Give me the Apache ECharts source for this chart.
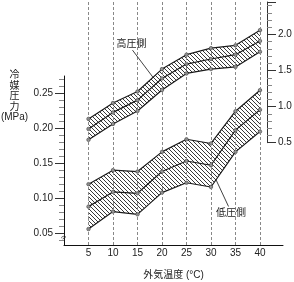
<!DOCTYPE html>
<html><head><meta charset="utf-8">
<script src="https://cdn.jsdelivr.net/npm/echarts@6/dist/echarts.min.js"></script>
<style>html,body{margin:0;padding:0;background:#fff}#c{width:294px;height:282px}</style>
</head><body><div id="c"></div>
<script>
// ---- data ----
const temps = [5, 10, 15, 20, 25, 30, 35, 40];
const highUpper = [0.83, 1.05, 1.21, 1.52, 1.72, 1.81, 1.85, 2.06];
const highMid   = [0.69, 0.92, 1.09, 1.39, 1.59, 1.66, 1.72, 1.91];
const highLower = [0.54, 0.76, 0.94, 1.23, 1.46, 1.52, 1.55, 1.76];
const lowUpper  = [0.120, 0.140, 0.138, 0.166, 0.184, 0.178, 0.224, 0.254];
const lowMid    = [0.088, 0.109, 0.107, 0.138, 0.153, 0.147, 0.197, 0.226];
const lowLower  = [0.056, 0.081, 0.077, 0.108, 0.122, 0.116, 0.166, 0.195];
const leftTicks = [0.05, 0.10, 0.15, 0.20, 0.25];
const leftMinor = [0.04, 0.06, 0.07, 0.08, 0.09, 0.11, 0.12, 0.13, 0.14, 0.16, 0.17, 0.18, 0.19, 0.21, 0.22, 0.23, 0.24, 0.26, 0.27];
const rightTicks = [0.5, 1.0, 1.5, 2.0];
const rightMinor = [0.6, 0.7, 0.8, 0.9, 1.1, 1.2, 1.3, 1.4, 1.6, 1.7, 1.8, 1.9, 2.1, 2.2, 2.3, 2.4];
const highNote = { text: '高圧側', label: [13.78, 1.866], from: [13.98, 1.783], to: [18.2, 1.403] };
const lowNote  = { text: '低圧側', label: [34.09, 0.0789], from: [31.03, 0.1263], to: [33.58, 0.0882] };
const xTitle = '外気温度 (°C)';
const yTitle = '冷\n媒\n圧\n力\n(MPa)';

// ---- styling ----
const FONT = "'Liberation Sans', Arial, 'Noto Sans CJK JP', sans-serif";
const TXT = '#222';
const LEFT = 64, GRID0_W = 219;
const XMAX0 = 44.7;
const XMAX1 = (267 - LEFT) / (GRID0_W / XMAX0);
const LMIN = 0.0333, LMAX = 0.2742;
const RMIN = 0.5, RMAX = 2.45;

// hatch pattern
const hatch = document.createElement('canvas');
const S = 4;
hatch.width = S; hatch.height = S;
(function () {
  const ctx = hatch.getContext('2d');
  ctx.strokeStyle = '#222';
  ctx.lineWidth = 0.9;
  ctx.beginPath();
  for (let k = -1; k <= 1; k++) {
    ctx.moveTo(0, k * S);
    ctx.lineTo(S, k * S + S);
  }
  ctx.stroke();
})();

function bandRender(params, api) {
  if (params.dataIndexInside !== 0) return null;
  const n = params.dataInsideLength;
  const pts = [];
  for (let j = 0; j < n; j++) pts.push(api.coord([api.value(0, j), api.value(2, j)]));
  for (let j = n - 1; j >= 0; j--) pts.push(api.coord([api.value(0, j), api.value(1, j)]));
  return { type: 'polygon', shape: { points: pts }, style: { fill: { image: hatch, repeat: 'repeat' }, stroke: null } };
}

function lineSeries(vals, xi, yi, extra) {
  return Object.assign({
    type: 'line', xAxisIndex: xi, yAxisIndex: yi,
    data: temps.map((t, i) => [t, vals[i]]),
    symbol: 'circle', symbolSize: 3.5, showSymbol: true,
    lineStyle: { color: '#1a1a1a', width: 1.2 },
    itemStyle: { color: '#999', borderColor: '#333', borderWidth: 0.6 },
    silent: true, animation: false, z: 4
  }, extra || {});
}

const hiddenX = (gi, max) => ({ gridIndex: gi, type: 'value', min: 0, max: max, show: false });
const gridBase = (top, bottom, width) => ({ left: LEFT, top: top, bottom: bottom, width: width, containLabel: false, outerBoundsMode: 'none' });

const option = {
  animation: false,
  textStyle: { fontFamily: FONT },
  grid: [
    gridBase(76, 37, GRID0_W),              // 0 low-side (left axis)
    gridBase(2, 282 - 142.7, 267 - LEFT),   // 1 high-side (right axis)
    gridBase(0, 37, GRID0_W),               // 2 dashed guides
    gridBase(76, 37, GRID0_W),              // 3 left minor ticks
    gridBase(2, 282 - 142.7, 267 - LEFT)    // 4 right minor ticks
  ],
  xAxis: [
    {
      gridIndex: 0, type: 'value', min: 0, max: XMAX0,
      axisLine: { onZero: false, lineStyle: { color: '#111', width: 1 } },
      axisTick: { show: false }, splitLine: { show: false },
      axisLabel: { customValues: temps, color: TXT, fontSize: 10, margin: 3, fontFamily: FONT },
      name: xTitle, nameLocation: 'middle', nameGap: 25,
      nameTextStyle: { color: TXT, fontSize: 10, fontFamily: FONT }
    },
    hiddenX(1, XMAX1), hiddenX(2, XMAX0), hiddenX(3, XMAX0), hiddenX(4, XMAX1)
  ],
  yAxis: [
    {
      gridIndex: 0, type: 'value', position: 'left', min: LMIN, max: LMAX,
      axisLine: { show: true, onZero: false, lineStyle: { color: '#111', width: 1 } },
      axisTick: { show: true, customValues: leftTicks, length: 9, lineStyle: { color: '#333' } },
      axisLabel: { customValues: leftTicks, formatter: v => v.toFixed(2), color: TXT, fontSize: 10, margin: 11, fontFamily: FONT },
      splitLine: { show: false }
    },
    {
      gridIndex: 1, type: 'value', position: 'right', min: RMIN, max: RMAX,
      axisLine: { show: true, onZero: false, lineStyle: { color: '#333', width: 1 } },
      axisTick: { show: true, customValues: rightTicks.concat([RMAX]), length: 9, lineStyle: { color: '#333' } },
      axisLabel: { customValues: rightTicks, formatter: v => v.toFixed(1), color: TXT, fontSize: 10, margin: 11, fontFamily: FONT },
      splitLine: { show: false }
    },
    { gridIndex: 2, type: 'value', min: 0, max: 1, show: false },
    {
      gridIndex: 3, type: 'value', position: 'left', min: LMIN, max: LMAX,
      axisLine: { show: false, onZero: false }, axisLabel: { show: false }, splitLine: { show: false },
      axisTick: { show: true, customValues: leftMinor, length: 5, lineStyle: { color: '#888' } }
    },
    {
      gridIndex: 4, type: 'value', position: 'right', min: RMIN, max: RMAX,
      axisLine: { show: false, onZero: false }, axisLabel: { show: false }, splitLine: { show: false },
      axisTick: { show: true, customValues: rightMinor, length: 5, lineStyle: { color: '#888' } }
    }
  ],
  graphic: [
    {
      type: 'text', x: 14.5, y: 70, z: 10,
      style: { text: yTitle, fill: TXT, font: '10px ' + FONT, align: 'center', verticalAlign: 'top', lineHeight: 10.5 }
    },
    {
      type: 'text', x: 64, y: 237.5, rotation: Math.PI / 4, z: 10,
      style: { text: '≈', fill: '#333', font: '9px ' + FONT, align: 'center', verticalAlign: 'middle' }
    }
  ],
  series: [
    {
      type: 'line', xAxisIndex: 2, yAxisIndex: 2, data: [], silent: true,
      markLine: {
        silent: true, symbol: ['none', 'none'], animation: false,
        label: { show: false },
        lineStyle: { color: '#888', width: 1, type: [3, 2] },
        data: temps.map(t => ({ xAxis: t }))
      }
    },
    {
      type: 'custom', xAxisIndex: 0, yAxisIndex: 0, silent: true, z: 2,
      data: temps.map((t, i) => [t, lowLower[i], lowUpper[i]]),
      encode: { x: 0, y: [1, 2] }, renderItem: bandRender
    },
    {
      type: 'custom', xAxisIndex: 1, yAxisIndex: 1, silent: true, z: 2,
      data: temps.map((t, i) => [t, highLower[i], highUpper[i]]),
      encode: { x: 0, y: [1, 2] }, renderItem: bandRender
    },
    lineSeries(lowUpper, 0, 0),
    lineSeries(lowMid, 0, 0),
    lineSeries(lowLower, 0, 0, {
      markLine: {
        silent: true, symbol: ['none', 'none'], animation: false, label: { show: false },
        lineStyle: { color: '#111', width: 0.8, type: 'solid' },
        data: [[{ coord: lowNote.from }, { coord: lowNote.to }]]
      },
      markPoint: {
        silent: true, symbol: 'rect', symbolSize: 1, itemStyle: { color: 'rgba(0,0,0,0)' }, animation: false,
        label: { show: true, position: 'inside', formatter: lowNote.text, color: TXT, fontSize: 10, fontFamily: FONT },
        data: [{ coord: lowNote.label }]
      }
    }),
    lineSeries(highUpper, 1, 1, {
      markLine: {
        silent: true, symbol: ['none', 'none'], animation: false, label: { show: false },
        lineStyle: { color: '#111', width: 0.8, type: 'solid' },
        data: [[{ coord: highNote.from }, { coord: highNote.to }]]
      },
      markPoint: {
        silent: true, symbol: 'rect', symbolSize: 1, itemStyle: { color: 'rgba(0,0,0,0)' }, animation: false,
        label: { show: true, position: 'inside', formatter: highNote.text, color: TXT, fontSize: 10, fontFamily: FONT },
        data: [{ coord: highNote.label }]
      }
    }),
    lineSeries(highMid, 1, 1),
    lineSeries(highLower, 1, 1)
  ]
};

const chart = echarts.init(document.getElementById('c'), null, { renderer: 'canvas', devicePixelRatio: 1 });
chart.setOption(option);
</script>
</body></html>
